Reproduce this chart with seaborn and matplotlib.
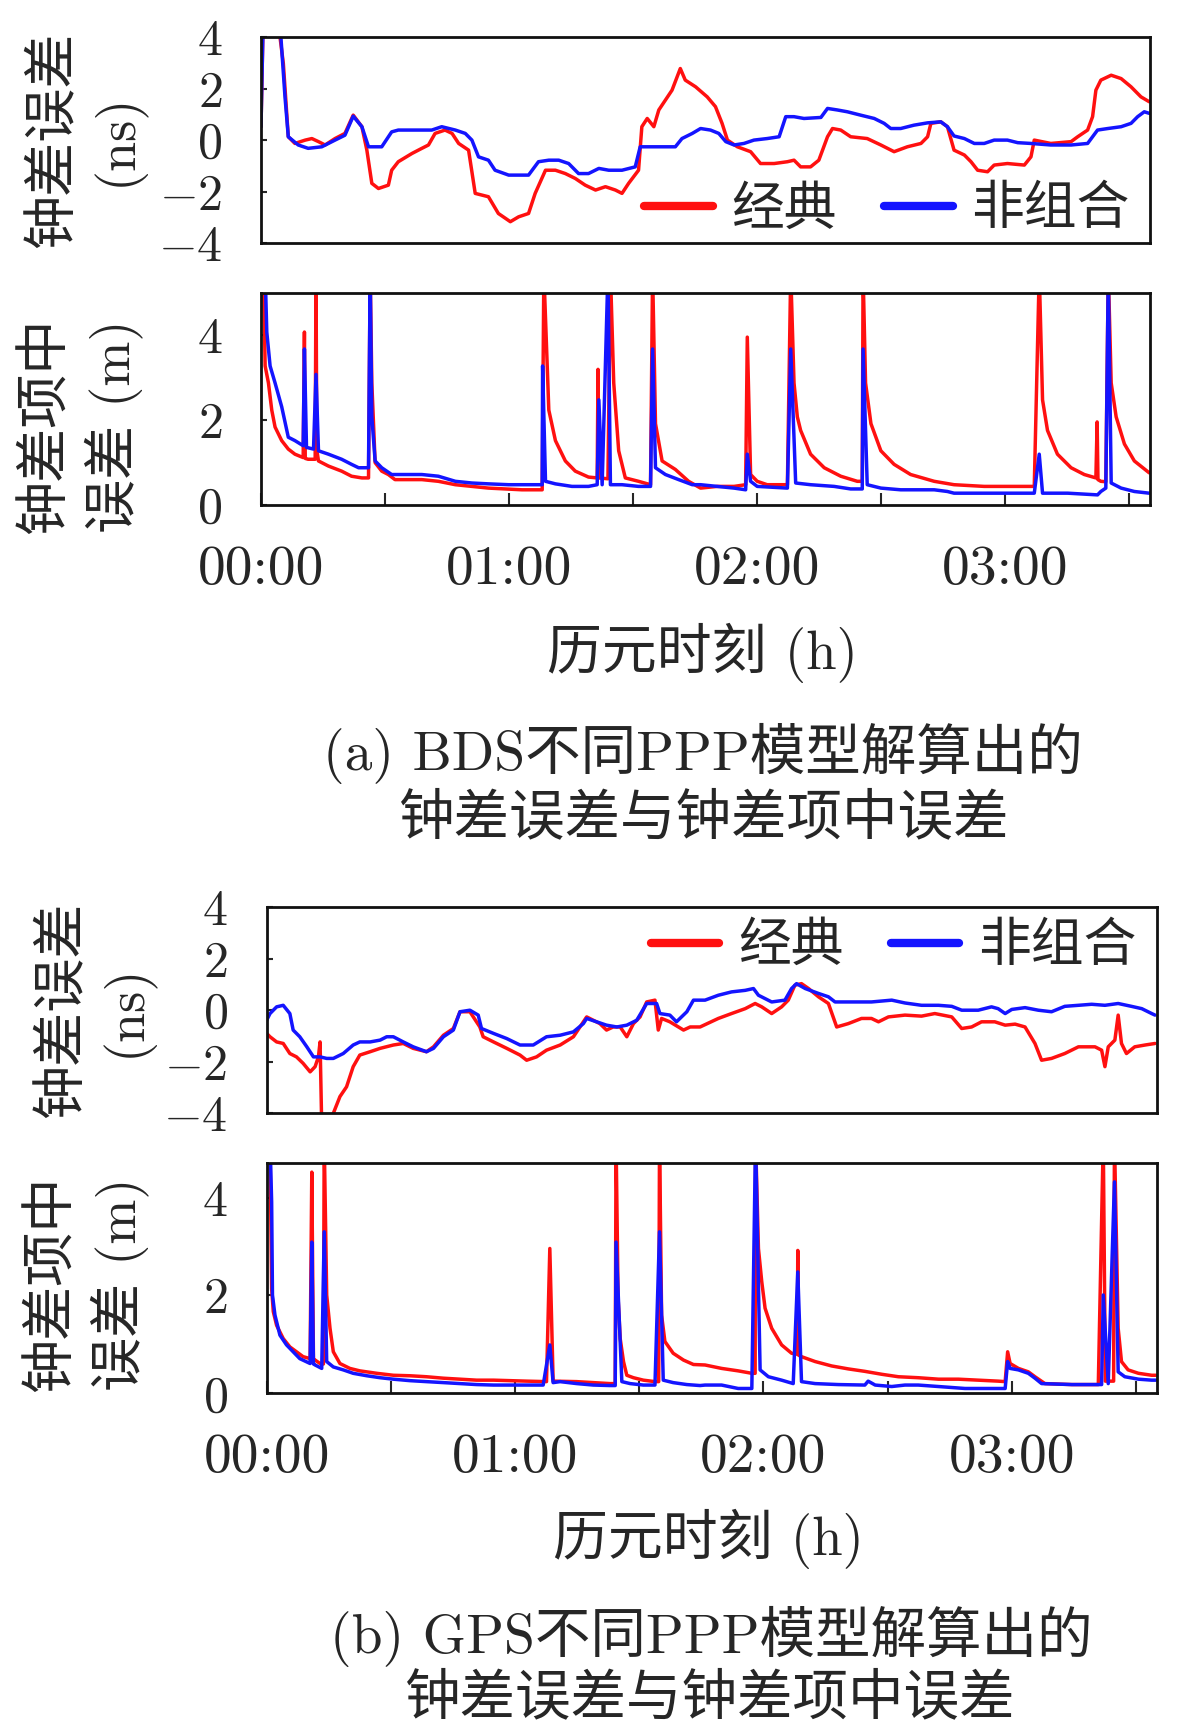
import numpy as np
import pandas as pd
import seaborn as sns
import matplotlib
matplotlib.use('Agg')
import matplotlib.pyplot as plt

# time in minutes after 00:00
# (a) BDS clock error (ns)
bds_err_red_t = [0.0, 0.5, 4.2, 5.4, 6.6, 8.2, 10.7, 12.3, 13.9, 15.5, 17.9, 20.3, 22.3, 24.4, 25.6, 26.8,
                 28.4, 30.8, 31.6, 33.2, 36.5, 38.9, 40.5, 42.1, 44.5, 46.2, 47.8, 50.2, 51.8, 55.0, 57.4,
                 60.3, 62.3, 64.7, 66.3, 68.8, 71.2, 73.6, 76.0, 78.4, 80.9, 83.3, 85.7, 87.3, 88.9, 91.3,
                 92.1, 93.4, 95.0, 96.2, 99.4, 101.4, 102.6, 105.1, 107.9, 109.9, 111.5, 112.8, 115.2,
                 118.4, 120.8, 124.1, 127.3, 128.9, 130.5, 132.9, 134.9, 137.0, 138.2, 140.2, 142.6, 146.6,
                 149.9, 153.1, 156.3, 159.6, 161.2, 162.0, 164.4, 166.0, 167.6, 170.1, 171.7, 173.3, 175.7,
                 177.3, 180.5, 184.6, 186.2, 187.0, 191.0, 195.9, 197.5, 199.9, 201.1, 201.9, 203.1, 205.6,
                 208.0, 210.4, 212.8, 214.8]
bds_err_red_v = [0.52, 4.5, 4.5, 2.98, 0.13, -0.13, 0.0, 0.06, -0.06, -0.19, 0.06, 0.26, 0.97, 0.52, -0.39, -1.68,
                 -1.88, -1.75, -1.17, -0.84, -0.52, -0.32, -0.19, 0.26, 0.39, 0.26, -0.13, -0.39, -2.07, -2.20, -2.85,
                 -3.17, -2.98, -2.85, -2.07, -1.17, -1.17, -1.30, -1.49, -1.75, -1.94, -1.81, -1.94, -2.07, -1.68, -1.17,
                 0.52, 0.84, 0.52, 1.17, 1.94, 2.78, 2.33, 2.07, 1.68, 1.30, 0.65, 0.0, -0.26,
                 -0.45, -0.91, -0.91, -0.84, -0.78, -1.04, -1.04, -0.78, 0.13, 0.45, 0.39, 0.13, 0.06,
                 -0.19, -0.45, -0.26, -0.13, 0.13, 0.65, 0.71, 0.52, -0.39, -0.58, -0.84, -1.17, -1.23,
                 -0.97, -0.91, -0.97, -0.65, 0.0, -0.13, -0.06, 0.13, 0.39, 0.91, 1.94, 2.33, 2.52,
                 2.39, 2.07, 1.68, 1.49]
bds_err_blue_t = [0.0, 0.5, 4.6, 5.8, 6.6, 9.0, 11.4, 14.7, 17.9, 20.3, 22.3, 24.4, 26.0, 29.2, 31.6, 33.2,
                  37.3, 41.3, 43.7, 47.0, 49.4, 51.0, 52.6, 55.0, 56.6, 59.9, 64.7, 67.1, 69.6, 72.0, 74.4,
                  76.8, 79.2, 81.7, 84.1, 87.3, 90.5, 91.7, 95.4, 100.2, 101.8, 104.3, 106.3, 108.7, 110.7,
                  112.4, 114.4, 116.8, 119.2, 122.4, 125.3, 126.9, 128.9, 131.3, 135.4, 137.0, 139.4, 141.8,
                  145.0, 148.3, 150.7, 152.3, 154.7, 157.9, 161.2, 164.4, 166.0, 167.6, 170.1, 172.5, 174.9,
                  177.3, 180.5, 183.0, 186.2, 191.0, 195.9, 199.9, 202.3, 204.8, 208.0, 210.4, 212.0, 213.6,
                  214.8]
bds_err_blue_v = [0.52, 4.5, 4.5, 1.68, 0.13, -0.19, -0.32, -0.26, 0.0, 0.19, 0.93, 0.52, -0.26, -0.26, 0.32, 0.39,
                  0.39, 0.39, 0.52, 0.39, 0.26, 0.0, -0.65, -0.78, -1.17, -1.36, -1.36, -0.84, -0.78, -0.78, -0.91,
                  -1.30, -1.30, -1.10, -1.17, -1.17, -1.04, -0.26, -0.26, -0.26, 0.06, 0.26, 0.45, 0.39, 0.26,
                  -0.06, -0.19, -0.13, 0.0, 0.06, 0.13, 0.91, 0.91, 0.84, 0.88, 1.23, 1.17, 1.10,
                  0.97, 0.84, 0.65, 0.45, 0.45, 0.58, 0.67, 0.71, 0.52, 0.16, 0.06, -0.13, -0.13,
                  0.0, 0.0, -0.10, -0.13, -0.19, -0.19, -0.13, 0.39, 0.45, 0.52, 0.65, 0.91, 1.10,
                  1.04]

# (a) BDS clock term standard error (m)
bds_sig_red_t = [0.0, 0.6, 1.0, 1.8, 2.6, 3.4, 5.0, 6.6, 8.2, 10.2, 10.5, 10.7, 11.4, 13.1, 13.3, 13.5, 13.9,
                 16.3, 19.5, 21.9, 24.4, 26.0, 26.4, 26.8, 27.6, 29.2, 30.8, 32.4, 34.9, 38.9, 42.9, 47.0,
                 51.0, 55.0, 59.1, 63.1, 68.0, 68.4, 69.6, 71.2, 73.6, 76.0, 79.2, 81.3, 81.5, 81.7, 83.9,
                 84.5, 85.3, 86.5, 88.1, 91.3, 94.2, 94.7, 95.4, 97.0, 100.2, 103.4, 106.3, 110.3, 114.4,
                 117.2, 117.6, 118.4, 120.0, 122.4, 127.3, 128.1, 128.9, 129.7, 130.5, 132.9, 136.2, 140.2,
                 144.2, 145.4, 145.6, 146.2, 147.5, 149.9, 153.1, 157.1, 162.8, 167.6, 174.9, 187.0, 188.2,
                 189.0, 190.2, 192.6, 195.9, 199.1, 201.9, 202.2, 202.4, 203.1, 204.3, 204.9, 205.6, 206.8,
                 208.8, 211.2, 214.8]
bds_sig_red_v = [5.5, 5.5, 3.28, 2.88, 2.24, 1.84, 1.52, 1.32, 1.20, 1.12, 4.08, 1.10, 1.08, 1.08, 5.5, 1.30, 1.04,
                 0.92, 0.80, 0.68, 0.64, 0.64, 5.5, 2.88, 1.00, 0.80, 0.72, 0.60, 0.60, 0.60, 0.56, 0.48,
                 0.44, 0.40, 0.38, 0.36, 0.36, 5.5, 2.24, 1.52, 1.04, 0.80, 0.66, 0.64, 3.20, 0.64, 0.62,
                 5.5, 2.88, 1.28, 0.64, 0.56, 0.48, 5.5, 1.92, 1.04, 0.84, 0.56, 0.40, 0.44, 0.44,
                 0.48, 3.96, 0.72, 0.56, 0.48, 0.48, 5.5, 2.88, 2.08, 1.76, 1.20, 0.88, 0.68,
                 0.56, 0.56, 5.5, 2.88, 1.92, 1.28, 0.96, 0.72, 0.56, 0.48, 0.44, 0.44, 5.5,
                 2.48, 1.76, 1.20, 0.88, 0.72, 0.64, 1.96, 0.60, 0.56, 0.55, 5.5, 2.88, 2.08,
                 1.44, 1.04, 0.76]
bds_sig_blue_t = [0.0, 1.0, 1.4, 2.2, 3.4, 5.0, 6.6, 8.2, 10.2, 10.5, 11.0, 12.7, 13.3, 13.9, 16.3, 19.5, 21.9,
                  23.6, 26.0, 26.4, 26.8, 27.6, 29.2, 31.6, 34.9, 38.9, 42.9, 47.0, 51.0, 55.0, 59.9, 68.0,
                  68.1, 68.8, 71.2, 75.2, 79.2, 81.3, 81.7, 82.5, 83.9, 84.5, 87.3, 91.3, 94.2, 94.7, 95.4,
                  97.8, 101.0, 104.3, 106.3, 110.3, 114.4, 117.2, 117.6, 118.4, 120.0, 127.3, 128.1, 129.3,
                  132.9, 138.6, 142.6, 145.4, 145.6, 146.6, 149.9, 154.7, 162.8, 166.0, 167.6, 174.9, 187.0,
                  188.2, 189.0, 195.1, 202.3, 203.1, 204.3, 204.9, 205.6, 208.0, 211.2, 214.8]
bds_sig_blue_v = [5.5, 5.5, 4.08, 3.28, 2.88, 2.32, 1.60, 1.52, 1.40, 3.68, 1.36, 1.32, 3.08, 1.28, 1.20, 1.08, 0.96,
                  0.88, 0.88, 5.5, 2.08, 1.04, 0.88, 0.72, 0.72, 0.72, 0.68, 0.56, 0.52, 0.50, 0.48, 0.48,
                  3.28, 0.56, 0.50, 0.44, 0.44, 0.48, 2.48, 0.48, 5.5, 0.48, 0.48, 0.44, 0.44, 3.68, 0.88,
                  0.72, 0.60, 0.48, 0.48, 0.44, 0.40, 0.36, 1.20, 0.56, 0.44, 0.40, 3.68, 0.52,
                  0.48, 0.44, 0.38, 0.38, 3.68, 0.48, 0.40, 0.36, 0.36, 0.32, 0.28, 0.28, 0.28,
                  1.20, 0.28, 0.28, 0.24, 0.32, 0.40, 5.5, 0.52, 0.40, 0.32, 0.28]

# (b) GPS clock error (ns)
gps_err_red_t = [0.0, 0.8, 2.4, 4.0, 5.6, 7.2, 8.8, 10.5, 11.7, 12.5, 12.9, 13.3, 14.1, 16.1, 17.7, 19.3, 20.9,
                 22.5, 25.0, 27.4, 30.6, 33.0, 35.4, 38.6, 40.3, 42.7, 45.1, 46.7, 49.1, 51.5, 52.3, 54.8,
                 58.0, 61.2, 62.8, 65.2, 67.6, 70.9, 74.1, 77.3, 78.9, 80.5, 82.1, 83.7, 85.4, 87.0, 88.6,
                 90.2, 91.8, 93.8, 94.6, 95.4, 97.4, 100.7, 102.3, 104.7, 109.1, 112.3, 115.6, 118.0, 119.6,
                 122.0, 124.4, 126.0, 127.6, 129.2, 130.9, 133.3, 135.7, 137.7, 140.5, 143.7, 146.1, 147.8,
                 150.2, 154.2, 158.2, 161.4, 165.5, 167.9, 170.3, 172.7, 175.9, 178.4, 180.8, 183.2, 185.6,
                 187.2, 189.6, 192.8, 196.1, 200.1, 201.7, 202.5, 203.3, 204.9, 205.7, 206.5, 207.7, 209.7,
                 212.2, 214.6]
gps_err_red_v = [-0.90, -1.03, -1.23, -1.29, -1.68, -1.81, -2.06, -2.39, -2.19, -1.81, -1.23, -4.5, -4.5, -4.0, -3.35,
                 -2.97, -2.19, -1.74, -1.61, -1.48, -1.35, -1.29, -1.48, -1.61, -1.42, -0.97, -0.71, -0.06, -0.06,
                 -0.65, -1.03, -1.23, -1.48, -1.74, -1.94, -1.81, -1.55, -1.35, -1.03, -0.26, -0.39, -0.52, -0.77,
                 -0.65, -0.65, -1.03, -0.52, -0.26, 0.32, 0.39, -0.77, -0.32, -0.45, -0.77, -0.65, -0.65, -0.32,
                 -0.13, 0.06, 0.26, 0.13, -0.13, 0.13, 0.39, 0.97, 1.03, 0.84, 0.52, 0.26, -0.65, -0.52,
                 -0.32, -0.32, -0.45, -0.26, -0.19, -0.23, -0.13, -0.26, -0.71, -0.65, -0.45, -0.45, -0.58,
                 -0.54, -0.65, -1.29, -1.94, -1.87, -1.68, -1.42, -1.42, -1.55, -2.19, -1.42, -1.16, -0.19,
                 -1.29, -1.68, -1.42, -1.35, -1.29]
gps_err_blue_t = [0.0, 0.8, 2.4, 4.0, 5.6, 6.4, 8.0, 9.7, 11.3, 12.9, 14.5, 16.1, 18.5, 20.9, 22.5, 25.0, 27.4,
                  29.0, 30.6, 33.0, 35.4, 38.6, 40.3, 42.7, 45.1, 46.7, 49.1, 51.1, 51.9, 54.8, 58.0, 61.2,
                  64.4, 67.6, 70.9, 74.1, 76.5, 77.3, 79.7, 82.1, 84.6, 87.0, 89.4, 91.8, 94.2, 95.0, 97.4,
                  99.0, 101.5, 103.1, 105.9, 109.1, 112.3, 115.6, 117.6, 118.8, 122.0, 125.2, 126.8, 128.0,
                  130.1, 133.3, 135.7, 137.3, 140.5, 146.1, 151.0, 154.2, 158.2, 162.3, 165.5, 167.9, 171.9,
                  175.1, 176.7, 178.4, 180.0, 183.2, 186.4, 189.6, 192.8, 196.1, 199.3, 202.5, 205.7, 208.9,
                  211.4, 213.8, 214.6]
gps_err_blue_v = [-0.39, -0.13, 0.13, 0.19, -0.13, -0.77, -1.03, -1.42, -1.81, -1.81, -1.87, -1.87, -1.68, -1.35,
                  -1.23, -1.23, -1.16, -1.03, -1.03, -1.23, -1.42, -1.61, -1.48, -1.03, -0.77, -0.06, 0.0,
                  -0.19, -0.71, -0.90, -1.10, -1.35, -1.35, -1.03, -0.97, -0.84, -0.52, -0.32, -0.45, -0.58,
                  -0.65, -0.58, -0.39, 0.26, 0.26, -0.13, -0.19, -0.45, -0.06, 0.39, 0.39, 0.58, 0.71, 0.77,
                  0.84, 0.58, 0.32, 0.39, 0.84, 1.03, 0.84, 0.65, 0.52, 0.32, 0.32, 0.32, 0.39, 0.28, 0.19,
                  0.19, 0.15, 0.0, 0.0, 0.13, 0.06, -0.13, 0.03, 0.10, 0.0, -0.06, 0.15, 0.19, 0.23, 0.19,
                  0.26, 0.15, 0.06, -0.13, -0.19]

# (b) GPS clock term standard error (m)
gps_sig_red_t = [0.0, 0.8, 1.2, 1.6, 2.4, 4.0, 5.6, 7.2, 8.8, 10.5, 10.9, 11.3, 11.7, 12.9, 13.7, 13.9, 14.5,
                 15.3, 16.1, 17.7, 20.1, 22.5, 26.6, 30.6, 34.6, 38.6, 42.7, 46.7, 50.7, 54.8, 58.8, 62.8,
                 67.6, 68.4, 69.2, 74.9, 78.9, 82.9, 84.2, 84.4, 84.9, 85.4, 86.2, 87.0, 88.6, 91.0, 93.8,
                 94.7, 94.9, 95.4, 96.2, 98.2, 100.7, 103.1, 105.9, 109.9, 113.9, 117.2, 118.0, 118.1,
                 118.8, 119.6, 120.4, 122.0, 124.4, 126.8, 128.2, 128.3, 128.5, 129.2, 132.5, 136.5, 140.5,
                 144.5, 148.6, 152.6, 157.4, 162.3, 167.1, 171.9, 176.7, 178.4, 179.0, 179.6, 181.6, 184.0,
                 185.6, 188.0, 194.5, 200.9, 202.1, 202.6, 204.6, 204.8, 205.7, 206.5, 208.1, 210.6, 213.8,
                 214.8]
gps_sig_red_v = [5.2, 5.2, 2.14, 1.67, 1.39, 1.12, 0.95, 0.85, 0.75, 0.71, 4.52, 0.70, 0.68, 0.61, 0.60, 5.2, 2.01,
                 1.33, 0.85, 0.61, 0.51, 0.46, 0.41, 0.37, 0.36, 0.34, 0.31, 0.29, 0.27, 0.27, 0.26, 0.25,
                 0.24, 2.96, 0.25, 0.24, 0.22, 0.20, 0.20, 5.2, 1.94, 1.12, 0.65, 0.37, 0.32, 0.27, 0.24,
                 0.24, 5.2, 1.60, 1.06, 0.82, 0.68, 0.59, 0.58, 0.51, 0.46, 0.41, 0.41, 5.2,
                 2.96, 2.28, 1.74, 1.33, 0.99, 0.82, 0.80, 2.92, 0.78, 0.75, 0.65, 0.56, 0.50,
                 0.45, 0.39, 0.34, 0.32, 0.29, 0.29, 0.27, 0.25, 0.24, 0.85, 0.61, 0.51, 0.44,
                 0.34, 0.20, 0.18, 0.18, 5.2, 0.25, 0.25, 5.2, 1.33, 0.65, 0.48, 0.41, 0.37,
                 0.37]
gps_sig_blue_t = [0.0, 0.8, 1.2, 1.4, 2.0, 3.2, 4.8, 6.4, 8.0, 10.5, 10.9, 11.3, 11.7, 13.3, 13.9, 14.5, 16.1,
                  18.5, 20.9, 24.2, 27.4, 30.6, 34.6, 38.6, 42.7, 46.7, 50.7, 54.8, 66.8, 68.4, 69.2, 70.9,
                  74.9, 78.9, 82.9, 84.2, 84.4, 85.8, 87.8, 91.0, 93.8, 94.9, 95.8, 98.2, 101.5, 104.7,
                  105.9, 109.9, 113.9, 117.2, 118.1, 119.2, 121.2, 124.4, 127.2, 128.3, 129.2, 132.5, 138.1,
                  144.5, 145.3, 147.0, 151.0, 154.2, 157.4, 162.3, 168.7, 174.3, 178.4, 179.0, 179.6, 181.6,
                  184.0, 185.6, 187.2, 194.5, 201.7, 202.1, 203.3, 204.8, 205.7, 207.3, 210.6, 213.8, 214.8]
gps_sig_blue_v = [5.2, 5.2, 3.91, 2.01, 1.60, 1.19, 0.99, 0.85, 0.71, 0.61, 3.09, 0.60, 0.58, 0.51, 3.30, 0.65, 0.54,
                  0.48, 0.41, 0.36, 0.32, 0.29, 0.26, 0.24, 0.22, 0.20, 0.18, 0.17, 0.17, 0.99, 0.22, 0.24,
                  0.20, 0.17, 0.16, 0.16, 3.09, 0.24, 0.20, 0.17, 0.17, 3.30, 0.27, 0.22, 0.18, 0.16,
                  0.17, 0.17, 0.10, 0.10, 5.2, 0.48, 0.34, 0.27, 0.20, 2.48, 0.24, 0.20, 0.18,
                  0.17, 0.25, 0.17, 0.14, 0.17, 0.17, 0.14, 0.10, 0.10, 0.10, 0.65, 0.51, 0.48,
                  0.41, 0.31, 0.20, 0.18, 0.18, 2.01, 0.20, 4.32, 0.44, 0.34, 0.29, 0.27, 0.27]

err_ticks = [-4, -2, 0, 2, 4]
sig_ticks = [0, 2, 4]
time_ticks = [0, 30, 60, 90, 120, 150, 180, 210]
time_labels = ['00:00', '', '01:00', '', '02:00', '', '03:00', '']
series_names = ['经典', '非组合']
captions = {
    'a': ['(a) BDS不同PPP模型解算出的', '钟差误差与钟差项中误差'],
    'b': ['(b) GPS不同PPP模型解算出的', '钟差误差与钟差项中误差'],
}

RED = '#ff1010'
BLUE = '#1414ff'

sns.set_theme(style='ticks')
# cmr10 ships with matplotlib -> Computer Modern look, CJK falls back to Noto
plt.rcParams['font.family'] = ['cmr10', 'Noto Sans CJK SC']
plt.rcParams['mathtext.fontset'] = 'cm'
plt.rcParams['axes.unicode_minus'] = False
plt.rcParams['axes.formatter.use_mathtext'] = True


def draw_pair(ax, rt, rv, bt, bv):
    sns.lineplot(x=rt, y=rv, ax=ax, color=RED, linewidth=2.5, estimator=None, sort=False,
                 label=series_names[0])
    sns.lineplot(x=bt, y=bv, ax=ax, color=BLUE, linewidth=2.5, estimator=None, sort=False,
                 label=series_names[1])
    ax.set_xlim(0, 215)
    ax.set_xlabel('')
    ax.set_ylabel('')
    for sp in ax.spines.values():
        sp.set_visible(True)
        sp.set_linewidth(2.0)
        sp.set_color('#111111')


def style_err(ax, legend_y):
    ax.set_ylim(-4, 4)
    ax.set_yticks(err_ticks)
    ax.set_yticklabels(['$%d$' % v for v in err_ticks])
    ax.set_xticks([])
    ax.tick_params(axis='y', direction='in', length=4, width=1.5, pad=28, labelsize=36)
    leg = ax.legend(loc='center right', bbox_to_anchor=(0.977, legend_y), frameon=False, ncol=2,
                    fontsize=38, handlelength=1.3, handletextpad=0.35, columnspacing=0.9,
                    borderaxespad=0, borderpad=0)
    for ln in leg.get_lines():
        ln.set_linewidth(6)


def style_sig(ax, top):
    ax.set_ylim(0, top)
    ax.set_yticks(sig_ticks)
    ax.set_yticklabels(['$%d$' % v for v in sig_ticks])
    ax.set_xticks(time_ticks)
    ax.set_xticklabels(time_labels)
    ax.tick_params(axis='y', direction='in', length=4, width=1.5, pad=28, labelsize=36)
    ax.tick_params(axis='x', direction='in', length=9, width=1.5, pad=29, labelsize=40)
    ax.get_legend().remove()


fig = plt.figure(figsize=(11.81, 17.35), dpi=100)

ax1 = fig.add_axes([0.2210, 0.8599, 0.7528, 0.1187])
ax2 = fig.add_axes([0.2210, 0.7089, 0.7528, 0.1222])
ax3 = fig.add_axes([0.2258, 0.3583, 0.7536, 0.1189])
ax4 = fig.add_axes([0.2258, 0.1969, 0.7536, 0.1326])

draw_pair(ax1, bds_err_red_t, bds_err_red_v, bds_err_blue_t, bds_err_blue_v)
draw_pair(ax2, bds_sig_red_t, bds_sig_red_v, bds_sig_blue_t, bds_sig_blue_v)
draw_pair(ax3, gps_err_red_t, gps_err_red_v, gps_err_blue_t, gps_err_blue_v)
draw_pair(ax4, gps_sig_red_t, gps_sig_red_v, gps_sig_blue_t, gps_sig_blue_v)

style_err(ax1, 0.16)
style_sig(ax2, 5.0)
style_err(ax3, 0.807)
style_sig(ax4, 4.7)

# y labels (two rotated lines each)
ylab_kw = dict(rotation=90, ha='center', va='center', multialignment='center', fontsize=39, linespacing=1.3)
fig.text(0.0730, 0.9196, '钟差误差\n(ns)', **ylab_kw)
fig.text(0.0694, 0.7544, '钟差项中\n误差 (m)', **ylab_kw)
fig.text(0.0810, 0.4179, '钟差误差\n(ns)', **ylab_kw)
fig.text(0.0741, 0.2600, '钟差项中\n误差 (m)', **ylab_kw)

# x labels
fig.text(0.595, 0.6236, '历元时刻 (h)', ha='center', va='center', fontsize=39.5)
fig.text(0.600, 0.1130, '历元时刻 (h)', ha='center', va='center', fontsize=39.5)

# captions
fig.text(0.595, 0.566, captions['a'][0], ha='center', va='center', fontsize=40)
fig.text(0.596, 0.528, captions['a'][1], ha='center', va='center', fontsize=40)
fig.text(0.602, 0.057, captions['b'][0], ha='center', va='center', fontsize=40)
fig.text(0.601, 0.0207, captions['b'][1], ha='center', va='center', fontsize=40)

fig.savefig('out.png', dpi=100)
